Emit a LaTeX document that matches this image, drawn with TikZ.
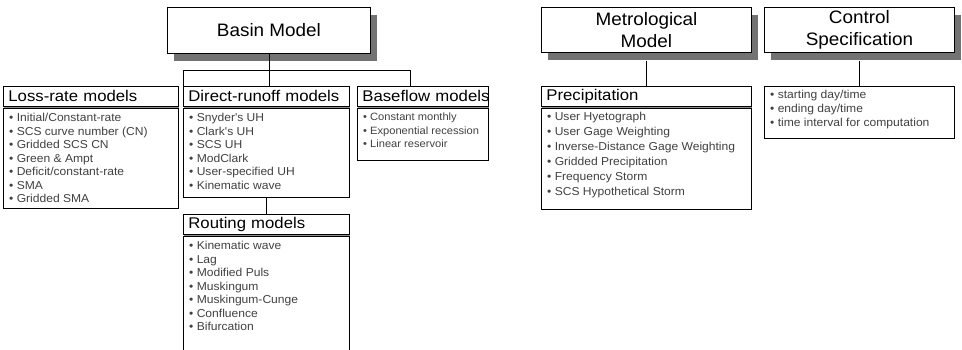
\documentclass[tikz,border=0pt]{standalone}
\usepackage{fontspec}
\setmainfont{Liberation Sans}
\newfontfamily\itemfont[FakeStretch=1.05]{Liberation Sans}
\newfontfamily\hdrfont[FakeStretch=1.08]{Liberation Sans}
\newfontfamily\topfont[FakeStretch=1.05]{Liberation Sans}
\usetikzlibrary{shadows}
\begin{document}
\begin{tikzpicture}[x=1pt,y=-1pt,
  topbox/.style={draw, line width=0.9pt, fill=white, anchor=north west, inner sep=0pt,
    align=center, font=\topfont\fontsize{18}{22}\selectfont,
    drop shadow={shadow xshift=7pt, shadow yshift=-8pt, fill=black!55, opacity=1}},
  hdr/.style={draw, line width=0.8pt, fill=white, anchor=north west, inner xsep=5pt, inner ysep=0pt,
    minimum height=20pt, align=left, font=\hdrfont\fontsize{15.5}{17}\selectfont,
    drop shadow={shadow xshift=1pt, shadow yshift=-2pt, fill=black!45, opacity=1}},
  body/.style={draw, line width=0.8pt, anchor=north west, inner sep=0pt},
  items/.style={anchor=north west, inner sep=0pt, align=left, text=black!75,
    font=\itemfont\fontsize{11.5}{13.5}\selectfont},
  link/.style={line width=0.8pt}
]
\useasboundingbox (0,0) rectangle (962,350);

% top level boxes
\node[topbox, minimum width=203pt, minimum height=46pt] (basin) at (167,7) {Basin Model};
\node[topbox, minimum width=210pt, minimum height=45pt] (metro) at (541,7) {Metrological\\Model};
\node[topbox, minimum width=190pt, minimum height=45pt] (ctrl) at (764,7) {Control\\Specification};

% headers
\node[hdr, text width=165pt] (lossH) at (3,86) {\mbox{Loss-rate models}};
\node[hdr, text width=156pt] (dirH) at (183,86) {\mbox{Direct-runoff models}};
\node[hdr, text width=121pt] (baseH) at (357,86) {\mbox{Baseflow models}};
\node[hdr, text width=156pt] (routH) at (183,214) {\mbox{Routing models}};
\node[hdr, text width=200pt] (precH) at (541,86) {\mbox{Precipitation}};

% bodies
\node[body, minimum width=175pt, minimum height=100pt] (lossB) at (3,108) {};
\node[body, minimum width=166pt, minimum height=89pt] (dirB) at (183,108) {};
\node[body, minimum width=131pt, minimum height=52pt] (baseB) at (357,108) {};
\node[body, minimum width=210pt, minimum height=101pt] (precB) at (541,108) {};
\node[body, minimum width=190pt, minimum height=52pt] (ctrlB) at (764,86) {};
\coordinate (routTL) at (183,236);
\coordinate (routTR) at (349,236);
\coordinate (routBL) at (183,351);
\coordinate (routBR) at (349,351);
\draw[line width=0.8pt] (routBL) -- (routTL) -- (routTR) -- (routBR);

% item lists
\node[items] (lossL) at ([shift={(6,5)}]lossB.north west)
  {\textbullet\ Initial/Constant-rate\\ \textbullet\ SCS curve number (CN)\\ \textbullet\ Gridded SCS CN\\
   \textbullet\ Green \& Ampt\\ \textbullet\ Deficit/constant-rate\\ \textbullet\ SMA\\ \textbullet\ Gridded SMA};
\node[items] (dirL) at ([shift={(6,5)}]dirB.north west)
  {\textbullet\ Snyder's UH\\ \textbullet\ Clark's UH\\ \textbullet\ SCS UH\\ \textbullet\ ModClark\\
   \textbullet\ User-specified UH\\ \textbullet\ Kinematic wave};
\node[items, font=\itemfont\fontsize{10.6}{13.5}\selectfont] (baseL) at ([shift={(6,5)}]baseB.north west)
  {\textbullet\ Constant monthly\\ \textbullet\ Exponential recession\\ \textbullet\ Linear reservoir};
\node[items] (routL) at ([shift={(6,5)}]routTL)
  {\textbullet\ Kinematic wave\\ \textbullet\ Lag\\ \textbullet\ Modified Puls\\ \textbullet\ Muskingum\\
   \textbullet\ Muskingum-Cunge\\ \textbullet\ Confluence\\ \textbullet\ Bifurcation};
\node[items, font=\itemfont\fontsize{11.5}{15}\selectfont] (precL) at ([shift={(6,4)}]precB.north west)
  {\textbullet\ User Hyetograph\\ \textbullet\ User Gage Weighting\\ \textbullet\ Inverse-Distance Gage Weighting\\
   \textbullet\ Gridded Precipitation\\ \textbullet\ Frequency Storm\\ \textbullet\ SCS Hypothetical Storm};
\node[items, font=\itemfont\fontsize{11.5}{14}\selectfont] (ctrlL) at ([shift={(6,4)}]ctrlB.north west)
  {\textbullet\ starting day/time\\ \textbullet\ ending day/time\\ \textbullet\ time interval for computation};

% connectors
\coordinate (bus) at (0,70);
\draw[link] (basin.south) -- (basin.south |- bus);
\draw[link] ([xshift=-86pt]basin.south |- lossH.north) -- ([xshift=-86pt]basin.south |- bus)
  -- ([xshift=141pt]basin.south |- bus) -- ([xshift=141pt]basin.south |- baseH.north);
\draw[link] (basin.south |- bus) -- (basin.south |- dirH.north);
\draw[link] ([yshift=-8pt]metro.south) -- (metro.south |- precH.north);
\draw[link] ([yshift=-8pt]ctrl.south) -- (ctrl.south |- ctrlB.north);
\draw[link] (dirB.south) -- (routH.north);
\end{tikzpicture}
\end{document}
